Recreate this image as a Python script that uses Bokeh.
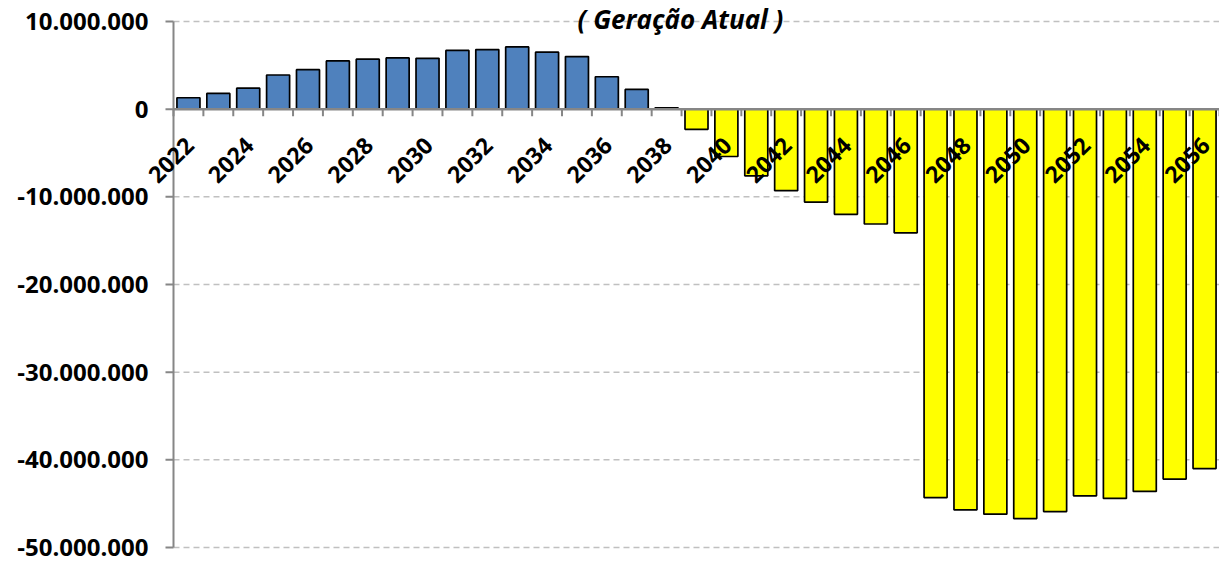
from bokeh.plotting import figure
from bokeh.models import (ColumnDataSource, Label, FixedTicker,
                          CustomJSTickFormatter, Range1d)
from bokeh.core.properties import value
from bokeh.embed import file_html
from bokeh.resources import INLINE
import math

# ---------------- data ----------------
years = list(range(2022, 2057))
values = [
    1.3e6, 1.8e6, 2.4e6, 3.9e6, 4.5e6, 5.5e6, 5.7e6, 5.85e6, 5.8e6, 6.7e6,
    6.8e6, 7.1e6, 6.5e6, 6.0e6, 3.7e6, 2.25e6, 0.15e6,
    -2.3e6, -5.4e6, -7.6e6, -9.3e6, -10.6e6, -12.0e6, -13.1e6, -14.1e6,
    -44.3e6, -45.7e6, -46.2e6, -46.7e6, -45.9e6, -44.1e6, -44.4e6,
    -43.6e6, -42.2e6, -41.0e6,
]
y_ticks = [-50_000_000, -40_000_000, -30_000_000, -20_000_000,
           -10_000_000, 0, 10_000_000]
label_years = years[::2]
label_texts = [str(y) for y in label_years]
title_text = "( Geração Atual )"

# ---------------- style / layout ----------------
BLUE = "#4f81bd"
YELLOW = "#ffff00"
AXIS_GRAY = "#868686"
GRID_GRAY = "#c0c0c0"
FONT = "Open Sans"

W, H = 1219, 563
FRAME_L = 138      # frame starts left of the visible axis so labels are not clipped
AX_PX = 173        # pixel of the value axis
TOP_PX = 21        # pixel of top tick
BOT_PX = 547       # pixel of bottom tick
TITLE_PX = 680     # title centre
TICK_LEN_PX = 8

ppx = (W - AX_PX) / len(years)
x_lo = years[0] - 0.5
x_hi = years[-1] + 0.5
x_start = x_lo - (AX_PX - FRAME_L) / ppx
ppy = (BOT_PX - TOP_PX) / (y_ticks[-1] - y_ticks[0])
y_start = y_ticks[0] - (H - BOT_PX) / ppy
y_end = y_ticks[-1] + TOP_PX / ppy

colors = [BLUE if v >= 0 else YELLOW for v in values]
src = ColumnDataSource(dict(x=years, top=values, color=colors))

p = figure(width=W, height=H, output_backend="svg", toolbar_location=None,
           x_range=Range1d(x_start, x_hi), y_range=Range1d(y_start, y_end),
           min_border_left=FRAME_L, min_border_right=0, min_border_top=0,
           min_border_bottom=0)
p.outline_line_color = None
p.background_fill_color = "white"
p.border_fill_color = "white"
p.xgrid.visible = False
p.ygrid.visible = False
p.xaxis.visible = False

# value axis: library axis for the labels
yax = p.yaxis[0]
yax.ticker = FixedTicker(ticks=y_ticks)
yax.formatter = CustomJSTickFormatter(code=r"""
var s = Math.round(tick).toString();
return s.replace(/\B(?=(\d{3})+(?!\d))/g, '.');
""")
yax.axis_line_color = None
yax.major_tick_line_color = None
yax.minor_tick_line_color = None
yax.major_tick_out = 0
yax.major_tick_in = 0
yax.major_label_standoff = -10
yax.major_label_text_font = FONT
yax.major_label_text_font_style = "bold"
yax.major_label_text_font_size = "24px"
yax.major_label_text_color = "black"

# dashed grid lines (except zero) from the axis to the right edge
grid_y = [t for t in y_ticks if t != 0]
p.segment(x0=[x_lo] * len(grid_y), y0=grid_y, x1=[x_hi] * len(grid_y),
          y1=grid_y, line_color=GRID_GRAY, line_width=1.5, line_dash="6 4")

# bars
p.vbar(x="x", top="top", bottom=0, width=0.77, source=src,
       fill_color="color", line_color="black", line_width=1.7)

# visible value-axis line and its ticks
p.segment(x0=[x_lo], y0=[y_ticks[0]], x1=[x_lo], y1=[y_ticks[-1]],
          line_color=AXIS_GRAY, line_width=2)
tick_dx = TICK_LEN_PX / ppx
p.segment(x0=[x_lo - tick_dx] * len(y_ticks), y0=y_ticks,
          x1=[x_lo] * len(y_ticks), y1=y_ticks,
          line_color=AXIS_GRAY, line_width=2)

# category axis at zero with ticks at category boundaries
bounds = [y - 0.5 for y in years] + [x_hi]
tick_dy = 7 / ppy
p.segment(x0=bounds, y0=[0] * len(bounds), x1=bounds,
          y1=[-tick_dy] * len(bounds), line_color=AXIS_GRAY, line_width=2)
p.segment(x0=[x_lo], y0=[0], x1=[x_hi], y1=[0],
          line_color=AXIS_GRAY, line_width=2.5)

# rotated category labels
p.text(x=label_years, y=[0] * len(label_years), text=label_texts,
       angle=math.pi / 4, text_align="right", text_baseline="middle",
       y_offset=32, x_offset=1,
       text_font=value(FONT), text_font_style="bold",
       text_font_size="23px", text_color="black")

# title
p.add_layout(Label(x=x_start + (TITLE_PX - FRAME_L) / ppx, y=y_ticks[-1],
                   text=title_text, text_align="center",
                   text_baseline="alphabetic", y_offset=3,
                   text_font=FONT, text_font_style="bold italic",
                   text_font_size="26px", text_color="black"))

open("out.html", "w").write(file_html(p, INLINE))
